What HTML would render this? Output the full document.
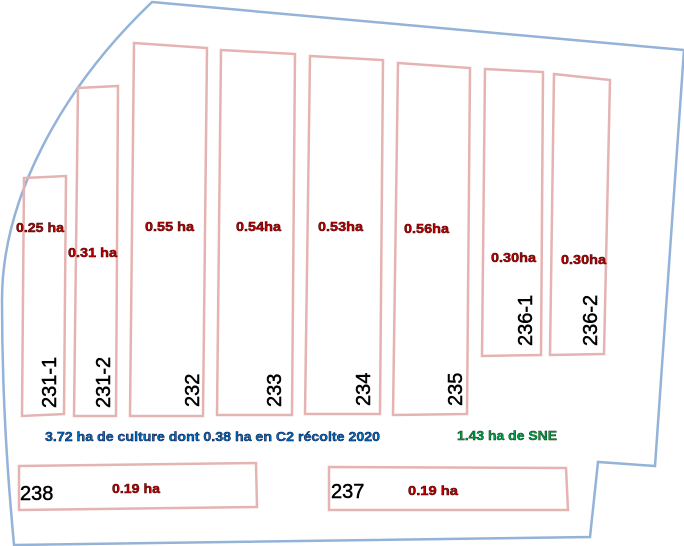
<!DOCTYPE html>
<html><head><meta charset="utf-8"><style>
html,body{margin:0;padding:0;background:#fff;}
svg{display:block;}
.n{font-family:"Liberation Sans",sans-serif;font-size:20px;fill:#000;stroke:#000;stroke-width:0.5px;}
.h{font-family:"Liberation Sans",sans-serif;font-size:13px;font-weight:bold;fill:#c00000;stroke:#400;stroke-width:0.5px;}
.p{fill:none;stroke:#e6b3b3;stroke-width:2.5;}
</style></head><body>
<svg width="684" height="546" viewBox="0 0 684 546">
<path d="M152,2 L684,50 L655,466 L598,462 L590,537 L14,545 C8,480 2,400 2,300 C2,200 60,90 152,2 Z" fill="none" stroke="#94b3d9" stroke-width="2.5"/>
<polygon class="p" points="24,178 66,176 64,414 22,416"/>
<polygon class="p" points="78,88 118,86 116,416 74,416"/>
<polygon class="p" points="134,43 207,48 203,416 130,416"/>
<polygon class="p" points="221,50 295,54 292,415 217,415"/>
<polygon class="p" points="310,56 383,60 380,414 305,414"/>
<polygon class="p" points="398,63 470,68 467,414 393,415"/>
<polygon class="p" points="485,69 543,72 541,355 482,356"/>
<polygon class="p" points="554,74 610,80 604,354 550,355"/>
<polygon class="p" points="19,466 256,463 257,507 19,510"/>
<polygon class="p" points="329,467 566,468 568,510 329,510"/>
<g class="n">
<text transform="translate(56,408) rotate(-90)">231-1</text>
<text transform="translate(110,408) rotate(-90)">231-2</text>
<text transform="translate(199,407) rotate(-90)">232</text>
<text transform="translate(281,407) rotate(-90)">233</text>
<text transform="translate(370,406) rotate(-90)">234</text>
<text transform="translate(462,406) rotate(-90)">235</text>
<text transform="translate(532,346) rotate(-90)">236-1</text>
<text transform="translate(597,346) rotate(-90)">236-2</text>
<text x="20" y="500">238</text>
<text x="331" y="498">237</text>
</g>
<g class="h">
<text x="16" y="232" textLength="48" lengthAdjust="spacingAndGlyphs">0.25 ha</text>
<text x="68" y="257" textLength="49" lengthAdjust="spacingAndGlyphs">0.31 ha</text>
<text x="145" y="231" textLength="49" lengthAdjust="spacingAndGlyphs">0.55 ha</text>
<text x="236" y="231" textLength="45" lengthAdjust="spacingAndGlyphs">0.54ha</text>
<text x="318" y="231" textLength="45" lengthAdjust="spacingAndGlyphs">0.53ha</text>
<text x="404" y="233" textLength="45" lengthAdjust="spacingAndGlyphs">0.56ha</text>
<text x="491" y="262" textLength="45" lengthAdjust="spacingAndGlyphs">0.30ha</text>
<text x="561" y="264" textLength="45" lengthAdjust="spacingAndGlyphs">0.30ha</text>
<text x="112" y="493" textLength="48" lengthAdjust="spacingAndGlyphs">0.19 ha</text>
<text x="408" y="495" textLength="50" lengthAdjust="spacingAndGlyphs">0.19 ha</text>
</g>
<text x="45" y="441" font-family="Liberation Sans,sans-serif" font-size="12.5px" font-weight="bold" fill="#0070c0" stroke="#003" stroke-width="0.4" textLength="335" lengthAdjust="spacingAndGlyphs">3.72 ha de culture dont 0.38 ha en C2 récolte 2020</text>
<text x="457" y="440" font-family="Liberation Sans,sans-serif" font-size="12.5px" font-weight="bold" fill="#00a050" stroke="#030" stroke-width="0.4" textLength="100" lengthAdjust="spacingAndGlyphs">1.43 ha de SNE</text>
</svg>
</body></html>
